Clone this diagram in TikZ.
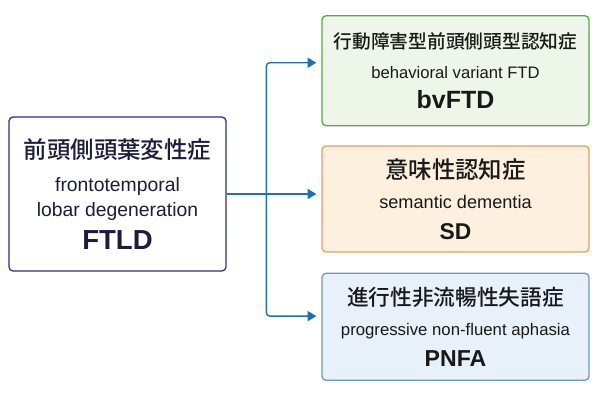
\documentclass[tikz,border=0pt]{standalone}
\usepackage{fontspec}
\setmainfont{Liberation Sans}
\newfontfamily\jp{Noto Sans CJK JP Medium}
\usepackage{xcolor}
\definecolor{linkblue}{HTML}{1F6FB2}
\definecolor{navyline}{HTML}{2E2C86}
\definecolor{navytext}{HTML}{1B1D3A}
\definecolor{greenline}{HTML}{5FA34E}
\definecolor{greenfill}{HTML}{EDF6E8}
\definecolor{orangeline}{HTML}{E1A064}
\definecolor{orangefill}{HTML}{FDF0DF}
\definecolor{blueline}{HTML}{6F95C9}
\definecolor{bluefill}{HTML}{E8F0FA}
\usepackage{tikz}
\usetikzlibrary{arrows.meta, positioning, calc}

\tikzset{
  box/.style={draw, rounded corners=3.5pt, line width=1.1pt, align=center,
    minimum width=8.01cm, minimum height=3.25cm, inner sep=0pt, text=black!90},
  flow/.style={linkblue, line width=1.2pt, rounded corners=3pt,
    -{Triangle[length=2.6mm, width=3mm]}},
}

\begin{document}
\begin{tikzpicture}
  % canvas
  \fill[white] (0,0) rectangle (18,12);
  \useasboundingbox (0,0) rectangle (18,12);

  % FTLD (left)
  \node[box, draw=navyline, fill=white, text=navytext,
    minimum width=6.51cm, minimum height=4.62cm,
    font=\fontsize{10}{28}\selectfont] (ftld) at (3.525,6.18)
    {{\jp\fontsize{20}{24}\selectfont 前頭側頭葉変性症}\\
     {\fontsize{16.5}{18}\selectfont frontotemporal}\\[-6pt]
     {\fontsize{16.5}{18}\selectfont lobar degeneration}\\
     {\fontsize{23.5}{30}\selectfont\bfseries FTLD}};

  % subtypes (right)
  \node[box, draw=orangeline, fill=orangefill, minimum height=3.18cm,
    font=\fontsize{10}{26}\selectfont] (sd) at (13.665,6.03)
    {{\jp\fontsize{20}{24}\selectfont 意味性認知症}\\
     {\fontsize{15.5}{18}\selectfont semantic dementia}\\
     {\fontsize{19.5}{24}\selectfont\bfseries SD}};
  \node[box, draw=greenline, fill=greenfill, minimum height=3.3cm,
    font=\fontsize{10}{26}\selectfont, above=0.57cm of sd] (bv)
    {{\jp\fontsize{16}{20}\selectfont 行動障害型前頭側頭型認知症}\\
     {\fontsize{14.2}{18}\selectfont behavioral variant FTD}\\
     {\fontsize{21.3}{26}\selectfont\bfseries bvFTD}};
  \node[box, draw=blueline, fill=bluefill, minimum height=3.21cm,
    font=\fontsize{10}{26}\selectfont, below=0.6cm of sd] (pnfa)
    {{\jp\fontsize{18.5}{22}\selectfont 進行性非流暢性失語症}\\
     {\fontsize{14.3}{18}\selectfont progressive non-fluent aphasia}\\
     {\fontsize{19.7}{24}\selectfont\bfseries PNFA}};

  % connectors
  \coordinate (split) at ($(ftld.east)+(1.19,0)$);
  \draw[flow] (ftld.east) -- ([xshift=-1.5mm]sd.west |- ftld.east);
  \draw[flow] (split) |- ([xshift=-1.5mm, yshift=2.4mm]bv.west);
  \draw[flow] (split) |- ([xshift=-1.5mm, yshift=3.2mm]pnfa.west);
\end{tikzpicture}
\end{document}
